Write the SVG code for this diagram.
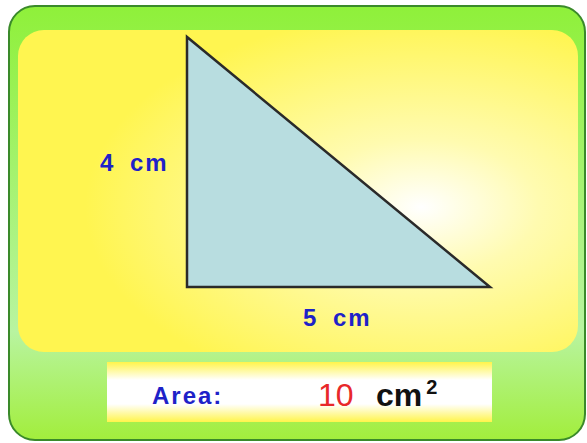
<svg xmlns="http://www.w3.org/2000/svg" width="587" height="443" viewBox="0 0 587 443">
<defs>
<linearGradient id="gOuter" x1="0" y1="0" x2="0" y2="1">
<stop offset="0" stop-color="#8ff03a"/>
<stop offset="0.75" stop-color="#b8f4a0"/>
<stop offset="1" stop-color="#a2ee3c"/>
</linearGradient>
<radialGradient id="gInner" cx="0.72" cy="0.55" r="0.6">
<stop offset="0" stop-color="#ffffff"/>
<stop offset="0.35" stop-color="#fffbb0"/>
<stop offset="1" stop-color="#fff550"/>
</radialGradient>
<linearGradient id="gBox" x1="0" y1="0" x2="0" y2="1">
<stop offset="0" stop-color="#fff44a"/>
<stop offset="0.3" stop-color="#ffffff"/>
<stop offset="0.7" stop-color="#ffffff"/>
<stop offset="1" stop-color="#fff44a"/>
</linearGradient>
</defs>
<style>
.lbl{font-family:"Comic Sans MS","Liberation Sans",sans-serif;font-weight:bold;font-size:24px;fill:#1e22c8;letter-spacing:2px;word-spacing:6px}
.val{font-family:"Liberation Sans",sans-serif;font-size:32px}
</style>
<rect width="587" height="443" fill="#ffffff"/>
<g id="frame">
<rect x="9" y="6" width="576" height="434" rx="26" fill="url(#gOuter)" stroke="#3a8a2a" stroke-width="2"/>
</g>
<g id="panel">
<rect x="18" y="30" width="560" height="322" rx="26" fill="url(#gInner)"/>
</g>
<g id="triangle">
<polygon points="187,37 187,287 490,287" fill="#b8dde0" stroke="#2a2a2a" stroke-width="2.5" stroke-linejoin="miter"/>
</g>
<g id="label-height">
<text class="lbl" x="100" y="171">4 cm</text>
</g>
<g id="label-base">
<text class="lbl" x="303" y="326">5 cm</text>
</g>
<g id="area-box">
<rect x="107" y="362" width="385" height="60" fill="url(#gBox)"/>
<text class="lbl" x="152" y="404" font-size="27" letter-spacing="3">Area:</text>
<text class="val" x="318" y="406" fill="#e8282a">10</text>
<text class="val" x="376" y="406" fill="#111111" font-weight="bold" font-size="30">cm<tspan dx="4" dy="-12" font-size="20">2</tspan></text>
</g>
</svg>
